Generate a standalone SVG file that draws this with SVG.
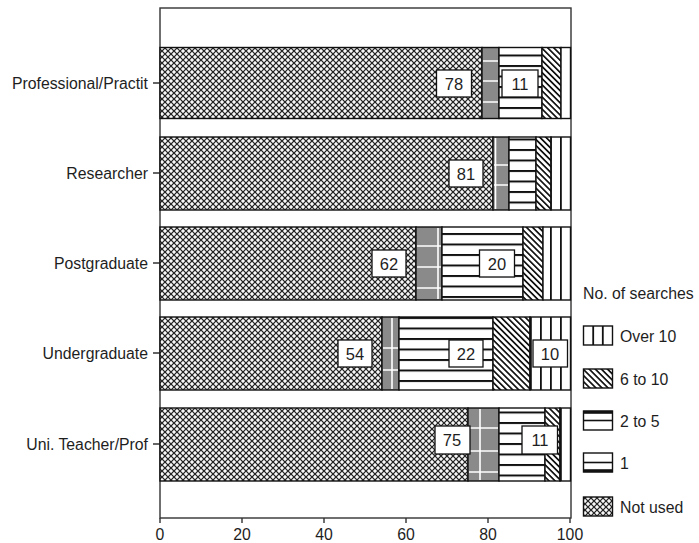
<svg xmlns="http://www.w3.org/2000/svg" width="699" height="543" viewBox="0 0 699 543">
<defs>
<pattern id="pNot" width="6" height="6" patternUnits="userSpaceOnUse">
<rect width="6" height="6" fill="#262626"/>
<path d="M3 1.2v3.6M1.2 3h3.6M0 -1.8v3.6M-1.8 0h3.6M6 -1.8v3.6M4.2 0h3.6M0 4.2v3.6M-1.8 6h3.6M6 4.2v3.6M4.2 6h3.6" stroke="#fff" stroke-width="1.7"/>
</pattern>
<pattern id="pHor" width="10" height="10.5" patternUnits="userSpaceOnUse" y="2">
<rect width="10" height="10.5" fill="#fff"/>
<rect y="0" width="10" height="2" fill="#111"/>
</pattern>
<pattern id="pDiag" width="4.3" height="4.3" patternUnits="userSpaceOnUse" patternTransform="rotate(-45)">
<rect width="4.3" height="4.3" fill="#fff"/>
<rect width="1.7" height="4.3" fill="#111"/>
</pattern>
<pattern id="pVer" width="10" height="10" patternUnits="userSpaceOnUse">
<rect width="10" height="10" fill="#fff"/>
<rect x="0" width="1.8" height="10" fill="#111"/>
</pattern>
<style>
.seg{stroke:#111;stroke-width:1.4}
.gray{fill:#8a8a8a;stroke:#111;stroke-width:1.4}
.wl{stroke:#fff;stroke-width:1.6}
.box{fill:#fff;stroke:#111;stroke-width:1.3}
.t{font-family:"Liberation Sans",Arial,sans-serif;font-size:15.8px;fill:#1e1e1e}
.bt{font-family:"Liberation Sans",Arial,sans-serif;font-size:16.5px;fill:#1e1e1e;text-anchor:middle}
.ax{stroke:#333;stroke-width:1.4;fill:none}
</style>
</defs>
<rect width="699" height="543" fill="#fff"/>

<g id="frame">
<rect class="ax" x="160" y="8" width="411" height="510"/>
<path class="ax" d="M153 83H160M153 173H160M153 263H160M153 353H160M153 444H160"/>
<path class="ax" d="M160 518v5M242 518v5M324 518v5M406 518v5M488 518v5M570 518v5"/>
</g>

<g id="axis-labels" class="t">
<text x="148" y="89" text-anchor="end">Professional/Practit</text>
<text x="148" y="179" text-anchor="end">Researcher</text>
<text x="148" y="269" text-anchor="end">Postgraduate</text>
<text x="148" y="359" text-anchor="end">Undergraduate</text>
<text x="148" y="450" text-anchor="end">Uni. Teacher/Prof</text>
<text x="160" y="540" text-anchor="middle">0</text>
<text x="242" y="540" text-anchor="middle">20</text>
<text x="324" y="540" text-anchor="middle">40</text>
<text x="406" y="540" text-anchor="middle">60</text>
<text x="488" y="540" text-anchor="middle">80</text>
<text x="570" y="540" text-anchor="middle">100</text>
</g>

<g id="bar-professional">
<rect class="seg" x="160" y="47.5" width="322" height="71" fill="url(#pNot)"/>
<rect class="gray" x="482" y="47.5" width="17" height="71"/>
<path class="wl" d="M483 61h15M483 81h15M483 102h15"/>
<rect class="seg" x="499" y="47.5" width="43" height="71" fill="url(#pHor)"/>
<rect class="seg" x="542" y="47.5" width="19" height="71" fill="url(#pDiag)"/>
<rect class="seg" x="561" y="47.5" width="9.5" height="71" fill="#fff"/>
<rect class="box" x="436.5" y="70" width="35" height="27"/>
<text class="bt" x="454" y="89.5">78</text>
<rect class="box" x="502" y="70" width="36" height="27"/>
<text class="bt" x="520" y="89.5">11</text>
</g>

<g id="bar-researcher">
<rect class="seg" x="160" y="137" width="333" height="73" fill="url(#pNot)"/>
<rect class="gray" x="493" y="137" width="16" height="73"/>
<path class="wl" d="M494 165h14M494 185h14M495.5 138v71"/>
<rect class="seg" x="509" y="137" width="27" height="73" fill="url(#pHor)"/>
<rect class="seg" x="536" y="137" width="15" height="73" fill="url(#pDiag)"/>
<rect class="seg" x="551" y="137" width="19.5" height="73" fill="url(#pVer)"/>
<rect class="box" x="449" y="160" width="34" height="27"/>
<text class="bt" x="466" y="179.5">81</text>
</g>

<g id="bar-postgraduate">
<rect class="seg" x="160" y="227" width="256" height="73" fill="url(#pNot)"/>
<rect class="gray" x="416" y="227" width="26" height="73"/>
<path class="wl" d="M417 246h24M417 267h24M417 288h24M438 228v71"/>
<rect class="seg" x="442" y="227" width="81" height="73" fill="url(#pHor)"/>
<rect class="seg" x="523" y="227" width="20" height="73" fill="url(#pDiag)"/>
<rect class="seg" x="543" y="227" width="27.5" height="73" fill="url(#pVer)"/>
<rect class="box" x="372" y="250" width="34" height="27"/>
<text class="bt" x="389" y="269.5">62</text>
<rect class="box" x="479.5" y="250" width="35" height="27"/>
<text class="bt" x="497" y="269.5">20</text>
</g>

<g id="bar-undergraduate">
<rect class="seg" x="160" y="317" width="222" height="73" fill="url(#pNot)"/>
<rect class="gray" x="382" y="317" width="17" height="73"/>
<path class="wl" d="M383 348h15M383 370h15M392 318v71"/>
<rect class="seg" x="399" y="317" width="94" height="73" fill="url(#pHor)"/>
<rect class="seg" x="493" y="317" width="37" height="73" fill="url(#pDiag)"/>
<rect class="seg" x="530" y="317" width="40.5" height="73" fill="url(#pVer)"/>
<rect class="box" x="338" y="340" width="34" height="27"/>
<text class="bt" x="355" y="359.5">54</text>
<rect class="box" x="449" y="340" width="34" height="27"/>
<text class="bt" x="466" y="359.5">22</text>
<rect class="box" x="533" y="340" width="34.5" height="27"/>
<text class="bt" x="550" y="359.5">10</text>
</g>

<g id="bar-uni-teacher">
<rect class="seg" x="160" y="408" width="308" height="73" fill="url(#pNot)"/>
<rect class="gray" x="468" y="408" width="31" height="73"/>
<path class="wl" d="M469 428h29M469 451h29M469 472h29M480 409v71"/>
<rect class="seg" x="499" y="408" width="46" height="73" fill="url(#pHor)"/>
<rect class="seg" x="545" y="408" width="15" height="73" fill="url(#pDiag)"/>
<rect class="seg" x="560" y="408" width="10.5" height="73" fill="url(#pVer)"/>
<rect class="box" x="435" y="426" width="35" height="28"/>
<text class="bt" x="452" y="446">75</text>
<rect class="box" x="522" y="426" width="35.5" height="28"/>
<text class="bt" x="540" y="446">11</text>
</g>

<g id="legend" class="t">
<text x="583" y="298.5">No. of searches</text>
<rect class="seg" x="583.5" y="326" width="29" height="19" fill="#fff"/>
<path d="M593.2 326v19M602.8 326v19" stroke="#111" stroke-width="1.8"/>
<text x="620" y="341.5">Over 10</text>
<rect class="seg" x="583.5" y="369" width="29" height="19" fill="url(#pDiag)"/>
<text x="620" y="384.5">6 to 10</text>
<rect class="seg" x="583.5" y="411" width="29" height="19" fill="#fff"/>
<path d="M583.5 420.5h29" stroke="#111" stroke-width="1.6"/>
<path d="M583.5 412.3h29" stroke="#111" stroke-width="3"/>
<text x="620" y="426.5">2 to 5</text>
<rect class="seg" x="583.5" y="453" width="29" height="19" fill="#fff"/>
<path d="M583.5 462.5h29" stroke="#111" stroke-width="1.6"/>
<path d="M583.5 470.7h29" stroke="#111" stroke-width="3"/>
<text x="620" y="468.5">1</text>
<rect class="seg" x="583.5" y="497" width="29" height="19" fill="url(#pNot)"/>
<text x="620" y="512.5">Not used</text>
</g>
</svg>
